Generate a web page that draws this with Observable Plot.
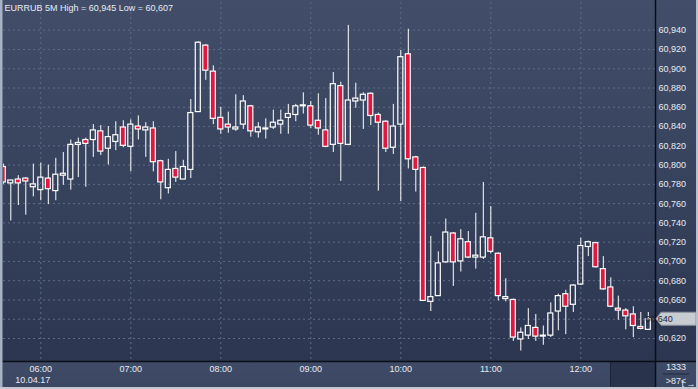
<!DOCTYPE html>
<html><head><meta charset="utf-8">
<script src="https://cdn.jsdelivr.net/npm/d3@7"></script>
<script src="https://cdn.jsdelivr.net/npm/@observablehq/plot@0.6"></script>
<style>
html,body{margin:0;padding:0;background:#3d4965;}
#wrap{position:relative;width:698px;height:389px;overflow:hidden;}
#wrap svg{display:block;}
</style></head><body><div id="wrap"></div>
<script>
const title = "EURRUB 5M High = 60,945 Low = 60,607";
const startTime = "2017-04-10T05:35:00Z";
const intervalMinutes = 5;
const open = [60.798,60.781,60.785,60.786,60.777,60.774,60.786,60.773,60.789,60.785,
60.821,60.826,60.826,60.835,60.817,60.824,60.839,60.819,60.840,60.836,
60.838,60.804,60.776,60.796,60.785,60.795,60.855,60.924,60.897,60.849,
60.842,60.837,60.842,60.861,60.834,60.837,60.839,60.842,60.849,60.852,
60.861,60.861,60.846,60.836,60.821,60.882,60.821,60.866,60.867,60.874,
60.852,60.845,60.818,60.842,60.915,60.808,60.797,60.658,60.664,60.699,
60.729,60.700,60.720,60.704,60.704,60.724,60.708,60.661,60.660,60.619,
60.623,60.631,60.622,60.623,60.648,60.666,60.655,60.676,60.715,60.719,
60.692,60.673,60.651,60.649,60.645,60.632,60.629];
const high = [60.801,60.784,60.789,60.787,60.801,60.802,60.800,60.807,60.813,60.826,
60.828,60.828,60.842,60.841,60.840,60.845,60.846,60.847,60.851,60.844,
60.845,60.805,60.806,60.814,60.805,60.868,60.928,60.925,60.903,60.860,
60.855,60.873,60.872,60.862,60.844,60.848,60.857,60.857,60.863,60.863,
60.875,60.866,60.874,60.869,60.896,60.886,60.945,60.885,60.875,60.875,
60.854,60.846,60.863,60.919,60.941,60.809,60.798,60.726,60.710,60.744,
60.730,60.733,60.731,60.750,60.782,60.757,60.709,60.682,60.661,60.631,
60.651,60.645,60.633,60.657,60.666,60.670,60.676,60.724,60.721,60.720,
60.705,60.683,60.664,60.651,60.653,60.647,60.647];
const low = [60.780,60.742,60.758,60.748,60.767,60.763,60.759,60.763,60.779,60.774,
60.787,60.777,60.808,60.810,60.800,60.815,60.818,60.793,60.826,60.808,
60.793,60.764,60.770,60.782,60.785,60.786,60.855,60.888,60.842,60.832,
60.833,60.835,60.837,60.829,60.828,60.827,60.837,60.832,60.832,60.845,
60.853,60.838,60.831,60.818,60.813,60.783,60.821,60.859,60.837,60.841,
60.773,60.813,60.811,60.762,60.796,60.772,60.659,60.648,60.664,60.698,
60.674,60.689,60.703,60.692,60.702,60.708,60.659,60.658,60.617,60.607,
60.619,60.617,60.613,60.621,60.628,60.624,60.647,60.675,60.705,60.693,
60.670,60.652,60.639,60.629,60.621,60.629,60.629];
const close = [60.782,60.784,60.781,60.783,60.780,60.787,60.775,60.790,60.791,60.821,
60.823,60.822,60.836,60.814,60.829,60.831,60.820,60.842,60.837,60.839,
60.803,60.782,60.795,60.787,60.798,60.854,60.927,60.898,60.848,60.837,
60.839,60.839,60.866,60.835,60.839,60.838,60.844,60.846,60.853,60.861,
60.862,60.841,60.838,60.819,60.884,60.822,60.867,60.869,60.873,60.851,
60.844,60.817,60.840,60.912,60.806,60.795,60.659,60.663,60.698,60.730,
60.699,60.723,60.704,60.706,60.725,60.710,60.664,60.663,60.621,60.626,
60.633,60.622,60.623,60.646,60.664,60.653,60.675,60.716,60.720,60.694,
60.671,60.653,60.649,60.643,60.633,60.630,60.640];
const yTicks = [60.62,60.64,60.66,60.68,60.70,60.72,60.74,60.76,60.78,60.80,60.82,60.84,60.86,60.88,60.90,60.92,60.94];
const xTicks = ["06:00","07:00","08:00","09:00","10:00","11:00","12:00"];
const dateLabel = "10.04.17";
const counterTop = "1333";
const counterBottom = ">87<";

const t0 = new Date(startTime);
const data = open.map((o, i) => ({
  t: new Date(+t0 + i * intervalMinutes * 60000),
  o, h: high[i], l: low[i], c: close[i]
}));
const lastPrice = close[close.length - 1];
const xTickDates = xTicks.map(s => new Date(`2017-04-10T${s}:00Z`));
const xDomain = [new Date("2017-04-10T05:35:08Z"), new Date("2017-04-10T12:49:48Z")];
const yDomain = [60.59614, 60.96875];
const half = 100 * 1000; // body half-width in ms
const red = "#e0173f";
const txt = "#e6ebf3";
const fmt = d => d.toFixed(3).replace(".", ",");
// the tick label hidden behind the last-price marker is not drawn
const yLabelTicks = yTicks.filter(v => Math.abs(v - lastPrice) > 0.008);

const overlay = (index, scales, values, dim) => {
  const g = d3.create("svg:g");
  const W = dim.width, H = dim.height;
  const px = W - dim.marginRight, py = H - dim.marginBottom;
  // dark box in bottom-right of time axis
  g.append("rect").attr("x", px - 44).attr("y", py + 1).attr("width", 44).attr("height", H - py - 3).attr("fill", "#29334c");
  g.append("line").attr("x1", px - 44.5).attr("x2", px - 44.5).attr("y1", py + 1).attr("y2", H - 2).attr("stroke", "#1c2336");
  // black axis lines
  g.append("line").attr("x1", px + 0.5).attr("x2", px + 0.5).attr("y1", 0).attr("y2", H).attr("stroke", "#0a0e16").attr("stroke-width", 1.5);
  g.append("line").attr("x1", 0).attr("x2", W).attr("y1", py + 0.5).attr("y2", py + 0.5).attr("stroke", "#0a0e16").attr("stroke-width", 1.5);
  // last price marker
  const yl = scales.y(lastPrice);
  g.append("path")
    .attr("d", `M${px + 1},${yl} L${px + 6},${yl - 6.5} L${W - 2},${yl - 6.5} L${W - 2},${yl + 6.5} L${px + 6},${yl + 6.5} Z`)
    .attr("fill", "#c7cbd2").attr("stroke", "#8d939e");
  g.append("text").attr("x", px + 4).attr("y", yl).attr("dy", "0.32em")
    .attr("fill", "#1e2331").attr("font-size", 9).text(fmt(lastPrice));
  // counters
  const cx = px + 21;
  g.append("text").attr("x", cx).attr("y", py + 9).attr("text-anchor", "middle").attr("fill", txt).attr("font-size", 9).text(counterTop);
  g.append("line").attr("x1", cx - 13).attr("x2", cx + 13).attr("y1", py + 13).attr("y2", py + 13).attr("stroke", "#20283b");
  g.append("text").attr("x", cx).attr("y", py + 23).attr("text-anchor", "middle").attr("fill", txt).attr("font-size", 9).text(counterBottom);
  // outer light border
  g.append("rect").attr("x", 0).attr("y", 0).attr("width", 2.5).attr("height", H).attr("fill", "#a7b2c4");
  g.append("rect").attr("x", W - 2).attr("y", 0).attr("width", 2).attr("height", H).attr("fill", "#b9c0cc");
  g.append("rect").attr("x", 0).attr("y", H - 2).attr("width", W).attr("height", 2).attr("fill", "#c3c8d1");
  return g.node();
};

const chart = Plot.plot({
  width: 698, height: 389,
  marginLeft: 3, marginRight: 43, marginTop: 2, marginBottom: 28,
  style: {
    background: "linear-gradient(to bottom, #424e69 0px, #2c3651 361px, #3f4b67 361px, #3a4662 389px)",
    fontFamily: "'Liberation Sans', Arial, sans-serif", fontSize: "9px", color: txt, overflow: "visible"
  },
  x: {type: "utc", domain: xDomain, axis: null},
  y: {domain: yDomain, axis: null},
  marks: [
    Plot.gridY(yTicks, {stroke: "#5f6b88", strokeOpacity: 1, strokeDasharray: "2,3"}),
    Plot.gridX(xTickDates, {stroke: "#5f6b88", strokeOpacity: 1, strokeDasharray: "2,3"}),
    Plot.ruleX(data, {x: "t", y1: d => Math.max(d.o, d.c), y2: "h", stroke: "white", strokeWidth: 1, clip: true}),
    Plot.ruleX(data, {x: "t", y1: "l", y2: d => Math.min(d.o, d.c), stroke: "white", strokeWidth: 1, clip: true}),
    Plot.rect(data.filter(d => d.c < d.o), {x1: d => new Date(+d.t - half), x2: d => new Date(+d.t + half), y1: "o", y2: "c", fill: red, stroke: "white", strokeWidth: 1.2, clip: true}),
    Plot.rect(data.filter(d => d.c >= d.o), {x1: d => new Date(+d.t - half), x2: d => new Date(+d.t + half), y1: "o", y2: "c", fill: "none", stroke: "white", strokeWidth: 1.2, clip: true}),
    Plot.axisY(yLabelTicks, {anchor: "right", tickSize: 0, tickPadding: 3, tickFormat: fmt, fill: txt, fontSize: 9}),
    Plot.axisX(xTickDates, {anchor: "bottom", tickSize: 0, tickPadding: 4, tickFormat: (d, i) => xTicks[i], fill: txt, fontSize: 9}),
    Plot.text([title], {frameAnchor: "top-left", dx: 1, dy: 2, lineAnchor: "top", textAnchor: "start", fill: txt, fontSize: 9}),
    Plot.text([dateLabel], {x: [xTickDates[0]], frameAnchor: "bottom", dx: -8, dy: 15, lineAnchor: "top", fill: txt, fontSize: 9}),
    overlay
  ]
});
document.getElementById("wrap").appendChild(chart);
</script></body></html>
